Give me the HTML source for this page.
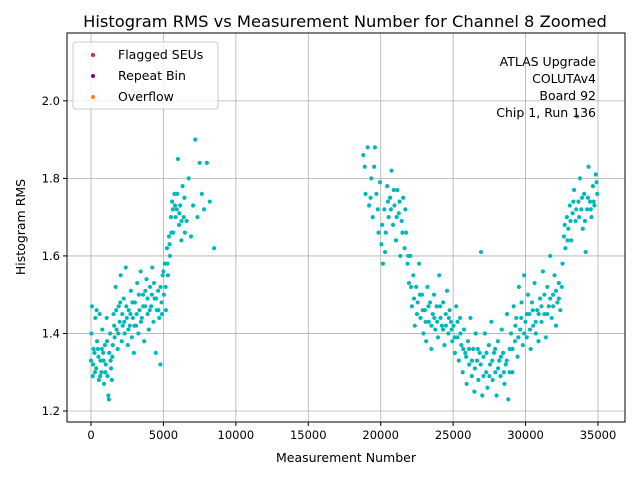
<!DOCTYPE html>
<html><head><meta charset="utf-8"><style>
body{margin:0;background:#fff;}
svg text{font-family:"DejaVu Sans","Liberation Sans",sans-serif;fill:#000;}
</style></head><body>
<svg id="chart" width="640" height="480" xmlns="http://www.w3.org/2000/svg">
<rect width="640" height="480" fill="#fff"/>
<text x="345" y="27" font-size="16.3" text-anchor="middle">Histogram RMS vs Measurement Number for Channel 8 Zoomed</text>
<g id="grid"></g>
<g id="points"></g>
<rect x="67" y="33" width="558" height="389" fill="none" stroke="#000" stroke-width="1"/>
<g id="ticks"></g>
<text x="346" y="462" font-size="12.5" text-anchor="middle">Measurement Number</text>
<text transform="translate(25,227) rotate(-90)" font-size="12.5" text-anchor="middle">Histogram RMS</text>
<g>
<rect x="73" y="42" width="145" height="67" rx="3" fill="#fff" fill-opacity="0.8" stroke="#ccc"/>
<circle cx="93" cy="55" r="2" fill="#d62728"/>
<text x="118" y="59" font-size="12.5">Flagged SEUs</text>
<circle cx="93" cy="76" r="2" fill="#800080"/>
<text x="118" y="80" font-size="12.5">Repeat Bin</text>
<circle cx="93" cy="97" r="2" fill="#ff7f0e"/>
<text x="118" y="101" font-size="12.5">Overflow</text>
</g>
<g font-size="12.5" text-anchor="end">
<text x="596" y="66">ATLAS Upgrade</text>
<text x="596" y="83">COLUTAv4</text>
<text x="596" y="100">Board 92</text>
<text x="596" y="117">Chip 1, Run 136</text>
</g>
</svg>
<script>
const xTicks=[0,5000,10000,15000,20000,25000,30000,35000];
const yTicks=[1.2,1.4,1.6,1.8,2.0];
const yTickLabels=["1.2","1.4","1.6","1.8","2.0"];
const measurement=[0,60,120,180,240,300,360,420,480,540,600,660,720,780,840,900,960,1020,1080,1140,1200,1260,1320,1380,1440,1500,
1560,1630,1700,1770,1840,1910,1980,2050,2120,2190,2260,2330,2400,2470,2540,2610,2680,2750,2820,2890,2960,
3030,3110,3190,3270,3350,3430,3510,3590,3670,3750,3830,3910,3990,4070,4150,4230,4310,4390,4470,4550,4630,4710,4790,4870,4950,
5030,5100,5170,5240,5310,5380,5450,5520,
5600,5680,5760,5840,5920,6000,6080,6160,6240,6320,6400,6480,
6600,6750,6900,7050,7200,7350,7500,7650,7800,8000,8200,8500,
18800,18950,19100,19200,19350,19450,19600,19700,19850,19950,
20050,20150,20250,20350,20450,20550,20650,20750,20850,20950,21050,21150,21250,21350,21450,21550,21650,21750,21850,21950,
22050,22150,22250,22350,22450,22550,22650,22750,22850,22950,
23050,23140,23230,23320,23410,23500,23590,23680,23770,23860,23950,24040,24130,24220,24310,24400,24490,24580,24670,24760,24850,24940,
25030,25120,25210,25300,25390,25480,25570,25660,25750,25840,25930,26020,26110,26200,26290,26380,26470,26560,26650,26740,26830,26920,27010,
27100,27190,27280,27370,27460,27550,27640,27730,27820,27910,28000,28090,28180,28270,28360,28450,28540,28630,28720,28810,28900,
29000,29090,29180,29270,29360,29450,29540,29630,29720,29810,29900,29990,30080,30170,30260,30350,30440,30530,30620,30710,30800,30890,
31000,31100,31200,31300,31400,31500,31600,31700,31800,31900,32000,32100,32200,32300,32400,
32550,32650,32750,32850,32950,33050,33150,33250,33350,33450,33550,33650,33750,33850,33950,34050,34150,34250,34350,34450,34550,34650,34750,34850,34950,
30,150,270,390,510,630,750,870,990,1110,1230,1350,1470,1600,1740,1880,2020,2160,2300,2440,2580,2720,2860,3000,3150,3300,3450,3600,3750,3900,4050,4200,4350,4500,4650,4800,4900,5000,5150,5280,5420,5550,5650,5800,5950,6100,6250,6450,
18900,19300,19550,19800,20100,20300,20500,20700,20900,21100,21300,21500,21700,21900,
22100,22300,22500,22700,22900,23100,23300,23500,23700,23900,24100,24300,24500,24700,24900,
25100,25300,25500,25700,25900,26100,26300,26500,26700,26900,27100,27300,27500,27700,27900,28100,28300,28500,28700,28900,
29100,29300,29500,29700,29900,30100,30300,30500,30700,30900,31100,31300,31500,31700,31900,32100,32300,32500,
32700,32900,33100,33300,33500,33700,33900,34100,34300,34500,34700,34900];
const rms=[1.33,1.47,1.29,1.36,1.35,1.44,1.31,1.38,1.36,1.28,1.45,1.33,1.30,1.41,1.35,1.27,1.37,1.32,1.44,1.29,1.24,1.35,1.40,1.31,1.28,1.37,
1.45,1.39,1.52,1.41,1.36,1.47,1.43,1.55,1.38,1.42,1.49,1.40,1.57,1.44,1.37,1.46,1.42,1.51,1.39,1.44,1.35,
1.48,1.42,1.53,1.40,1.46,1.56,1.44,1.50,1.38,1.47,1.54,1.45,1.41,1.52,1.47,1.57,1.43,1.49,1.35,1.46,1.51,1.44,1.32,1.48,1.55,
1.50,1.58,1.46,1.62,1.55,1.65,1.60,1.70,
1.74,1.66,1.76,1.70,1.72,1.85,1.68,1.73,1.64,1.78,1.70,1.66,
1.69,1.80,1.65,1.73,1.90,1.70,1.84,1.76,1.72,1.84,1.74,1.62,
1.86,1.76,1.88,1.73,1.80,1.70,1.88,1.76,1.66,1.79,
1.63,1.58,1.72,1.66,1.78,1.70,1.75,1.82,1.68,1.73,1.64,1.77,1.71,1.60,1.69,1.75,1.62,1.66,1.58,1.53,
1.60,1.47,1.55,1.42,1.52,1.48,1.58,1.44,1.50,1.40,
1.46,1.38,1.52,1.43,1.48,1.36,1.45,1.50,1.41,1.47,1.39,1.55,1.44,1.42,1.48,1.37,1.45,1.51,1.40,1.46,1.43,1.38,
1.42,1.35,1.47,1.39,1.33,1.44,1.37,1.30,1.41,1.35,1.27,1.38,1.32,1.44,1.29,1.36,1.25,1.40,1.33,1.28,1.35,1.61,1.24,
1.34,1.40,1.30,1.26,1.37,1.32,1.43,1.28,1.35,1.30,1.24,1.38,1.33,1.29,1.41,1.35,1.27,1.32,1.45,1.23,1.36,
1.40,1.30,1.47,1.38,1.44,1.34,1.52,1.41,1.48,1.37,1.55,1.43,1.39,1.50,1.45,1.36,1.48,1.42,1.53,1.40,1.46,1.38,
1.49,1.43,1.56,1.45,1.39,1.52,1.47,1.60,1.44,1.50,1.55,1.42,1.48,1.53,1.46,
1.58,1.65,1.62,1.70,1.67,1.73,1.64,1.71,1.77,1.69,1.96,1.74,1.80,1.72,1.67,1.76,1.61,1.72,1.83,1.74,1.70,1.78,1.73,1.81,1.76,
1.40,1.32,1.30,1.46,1.34,1.29,1.36,1.33,1.30,1.38,1.23,1.33,1.34,1.42,1.46,1.40,1.48,1.45,1.43,1.47,1.41,1.45,1.48,1.42,1.45,1.50,1.43,1.47,1.51,1.49,1.46,1.50,1.53,1.49,1.46,1.52,1.45,1.56,1.52,1.58,1.63,1.66,1.72,1.73,1.76,1.71,1.69,1.75,
1.83,1.75,1.83,1.72,1.68,1.61,1.74,1.72,1.77,1.70,1.74,1.66,1.72,1.60,
1.52,1.49,1.45,1.50,1.46,1.43,1.47,1.42,1.44,1.43,1.47,1.41,1.42,1.44,1.41,
1.39,1.43,1.40,1.36,1.34,1.36,1.33,1.31,1.36,1.32,1.29,1.35,1.29,1.33,1.36,1.31,1.34,1.30,1.33,1.30,
1.36,1.42,1.39,1.44,1.40,1.45,1.41,1.46,1.43,1.45,1.47,1.50,1.45,1.49,1.47,1.51,1.49,1.52,
1.68,1.64,1.69,1.74,1.72,1.70,1.75,1.69,1.75,1.72,1.74,1.79];

const PL=67,PR=625,PT=33,PB=422;
const X0=-1657,X1=36864,Y0=1.1716,Y1=2.175;
function sx(v){return PL+(v-X0)/(X1-X0)*(PR-PL);}
function sy(v){return PB-(v-Y0)/(Y1-Y0)*(PB-PT);}
const NS="http://www.w3.org/2000/svg";
function mk(tag,attrs,parent){const e=document.createElementNS(NS,tag);for(const k in attrs)e.setAttribute(k,attrs[k]);parent.appendChild(e);return e;}
const grid=document.getElementById('grid'),ticks=document.getElementById('ticks'),pts=document.getElementById('points');
xTicks.forEach(t=>{const x=sx(t);
 const g=mk('line',{x1:x,x2:x,y1:PT,y2:PB,stroke:'#b0b0b0','stroke-width':0.8},grid);
 
 
 mk('line',{x1:x,x2:x,y1:PB,y2:PB+4,stroke:'#000'},ticks);
 const l=mk('text',{x:x,y:PB+17,'font-size':11.5,'text-anchor':'middle'},ticks);l.textContent=String(t);
 
 
});
yTicks.forEach((t,i)=>{const y=sy(t);
 const g=mk('line',{x1:PL,x2:PR,y1:y,y2:y,stroke:'#b0b0b0','stroke-width':0.8},grid);
 
 
 mk('line',{x1:PL-4,x2:PL,y1:y,y2:y,stroke:'#000'},ticks);
 const l=mk('text',{x:PL-7,y:y+4,'font-size':11.5,'text-anchor':'end'},ticks);l.textContent=yTickLabels[i];
 
 
});
measurement.forEach((m,i)=>{
 const c=mk('circle',{cx:sx(m),cy:sy(rms[i]),r:2.1,fill:'#00b8b8'},pts);
 
 
});
</script>
</body></html>
